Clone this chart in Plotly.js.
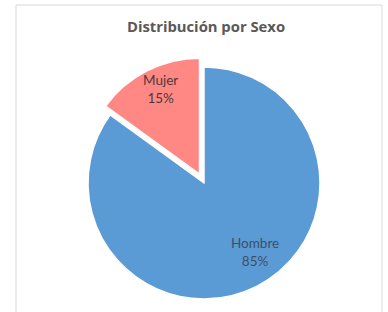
<!DOCTYPE html>
<html>
<head>
<meta charset="utf-8">
<script src="https://cdn.plot.ly/plotly-3.0.1.min.js"></script>
<style>html,body{margin:0;padding:0;background:#fff;}#chart{width:388px;height:312px;}</style>
</head>
<body>
<div id="chart"></div>
<script>
const labels = ["Hombre", "Mujer"];
const values = [85, 15];
const colors = ["#5B9BD5", "#FF8884"];
const pulls = [0, 0.085];

const W = 388, H = 312;
const cx = 204, cy = 183, R = 116;
const maxPull = Math.max.apply(null, pulls);
const half = R * (1 + maxPull);

const total = values.reduce((a, b) => a + b, 0);
const labelPos = [{x: 255, y: 252}, {x: 160, y: 89}];
const annotations = labels.map((l, i) => ({
  text: l + "<br>" + Math.round(values[i] / total * 100) + "%",
  xref: "paper", yref: "paper",
  x: labelPos[i].x / W, y: 1 - labelPos[i].y / H,
  xanchor: "center", yanchor: "middle",
  showarrow: false,
  font: {family: "Lato, 'Open Sans', sans-serif", size: 13.5, color: i === 0 ? "#3d4f66" : "#4a3a3a"}
}));

const trace = {
  type: "pie",
  labels: labels,
  values: values,
  sort: false,
  direction: "clockwise",
  rotation: 0,
  pull: pulls,
  marker: {colors: colors, line: {color: "#ffffff", width: 1.5}},
  textinfo: "none",
  hoverinfo: "none",
  domain: {x: [(cx - half) / W, (cx + half) / W], y: [1 - (cy + half) / H, 1 - (cy - half) / H]}
};
const layout = {
  width: W, height: H,
  margin: {l: 0, r: 0, t: 0, b: 0},
  paper_bgcolor: "#ffffff",
  showlegend: false,
  annotations: annotations,
  title: {
    text: "<b>Distribución por Sexo</b>",
    x: 206 / W, xanchor: "center",
    y: 1 - 27 / H, yanchor: "middle",
    font: {family: "'Open Sans', sans-serif", size: 14.8, color: "#595959"}
  },
  shapes: [{
    type: "rect", xref: "paper", yref: "paper",
    x0: 16 / W, x1: 382 / W, y0: -0.2, y1: 1 - 5 / H,
    line: {color: "#d9d9d9", width: 1}, fillcolor: "rgba(0,0,0,0)", layer: "below"
  }]
};
Plotly.newPlot("chart", [trace], layout, {displayModeBar: false, staticPlot: true});
</script>
</body>
</html>
